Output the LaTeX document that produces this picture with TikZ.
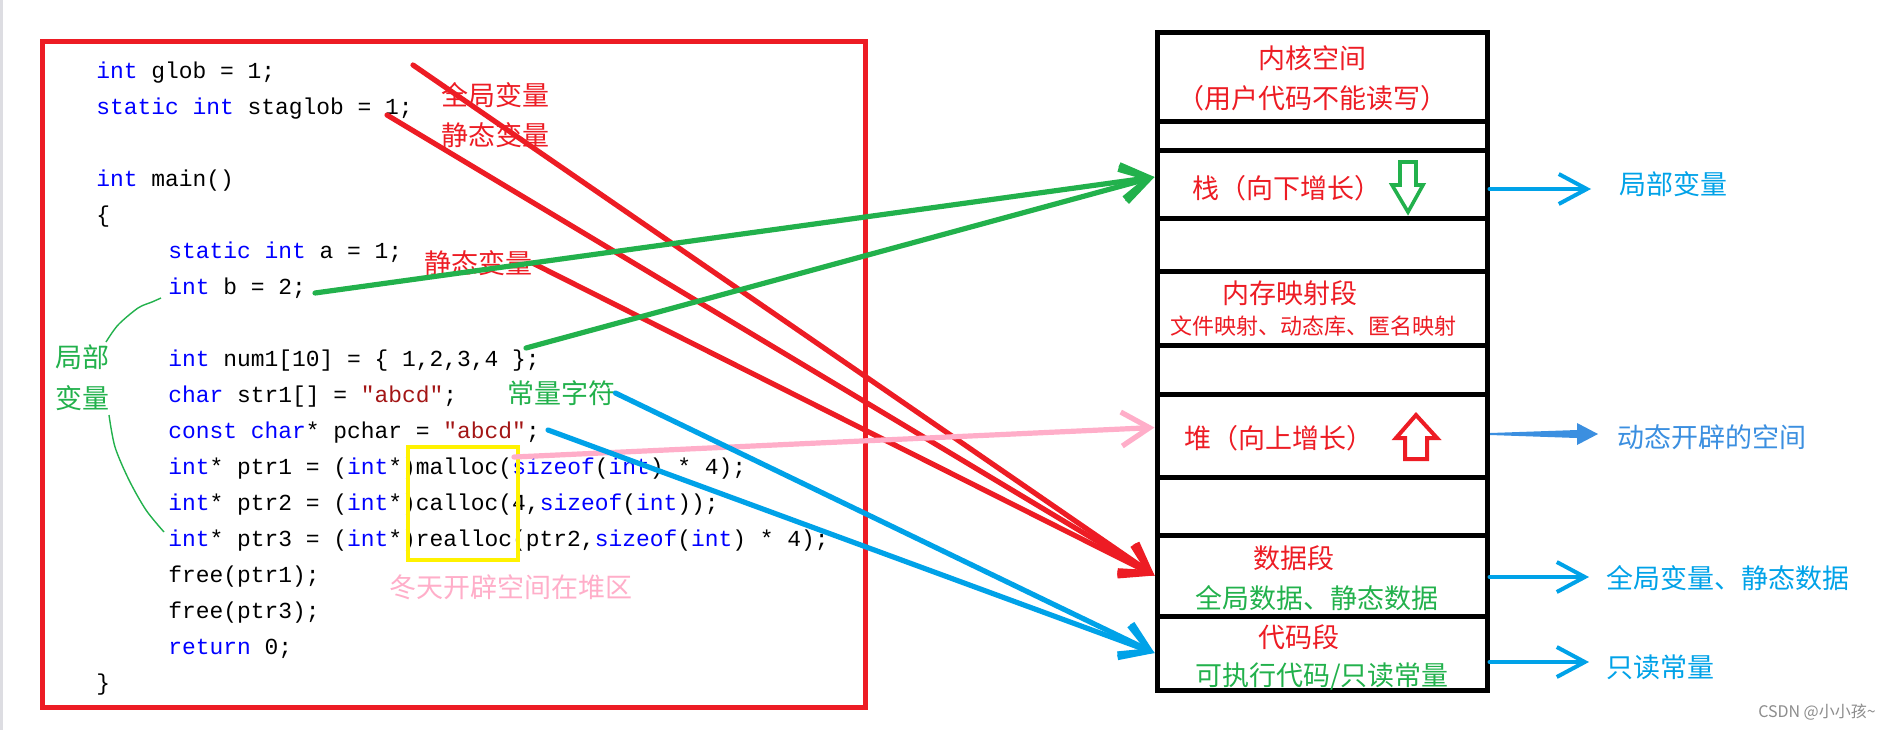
\documentclass[tikz,border=0pt]{standalone}
\usepackage{fontspec}
\usepackage{xcolor}
\usepackage{tikz}
\usetikzlibrary{arrows.meta,calc}
\newfontfamily\codefont{Liberation Mono}
\newfontfamily\cjk{Noto Sans CJK SC}
\definecolor{pred}{HTML}{ED1C24}
\definecolor{pgreen}{HTML}{22B14C}
\definecolor{pblue}{HTML}{00A2E8}
\definecolor{ppink}{HTML}{FFAEC9}
\definecolor{pyellow}{HTML}{FFF200}
\definecolor{kwc}{HTML}{0000FF}
\definecolor{strc}{HTML}{A31515}
\definecolor{dynblue}{HTML}{3B8FE0}
\newcommand\ckw[1]{\textcolor{kwc}{#1}}
\newcommand\cstr[1]{\textcolor{strc}{#1}}
\frenchspacing

\tikzset{
  src/.style={anchor=base west, inner sep=0pt, font=\codefont\fontsize{11.46pt}{13pt}\selectfont},
  zh/.style={inner sep=0pt, font=\cjk\fontsize{13.5pt}{15pt}\selectfont},
  zhs/.style={inner sep=0pt, font=\cjk\fontsize{11pt}{13pt}\selectfont},
  seg/.style={draw, line width=2.5pt, minimum width=165pt, inner sep=0pt},
  barb/.style={line width=2.6pt, line cap=round, -{Straight Barb[length=14pt,width=17pt]}},
  thinbarb/.style={line width=2pt, line cap=round, -{Straight Barb[length=14pt,width=15pt]}}
}

\begin{document}
\begin{tikzpicture}[x=0.5pt,y=-0.5pt]
\path[fill=white, use as bounding box] (0,0) rectangle (1890,730);
\fill[blue!8!gray!25] (0,0) rectangle (3,730);
%
% source listing
\draw[pred, line width=2.5pt] (42,41) rectangle (865,707);
\node[src] (glob) at (96,78) {\ckw{int} glob = 1;};
\node[src] (staglob) at (96,114) {\ckw{static} \ckw{int} staglob = 1;};
\node[src] (mainfn) at (96,186) {\ckw{int} main()};
\node[src] (lbrace) at (96,222) {\{};
\node[src] (sa) at (168,258) {\ckw{static} \ckw{int} a = 1;};
\node[src] (ib) at (168,294) {\ckw{int} b = 2;};
\node[src] (num) at (168,366) {\ckw{int} num1[10] = \{ 1,2,3,4 \};};
\node[src] (str) at (168,402) {\ckw{char} str1[] = \cstr{"abcd"};};
\node[src] (pchar) at (168,438) {\ckw{const} \ckw{char}* pchar = \cstr{"abcd"};};
\node[src] (ptra) at (168,474) {\ckw{int}* ptr1 = (\ckw{int}*)malloc(\ckw{sizeof}(\ckw{int}) * 4);};
\node[src] (ptrb) at (168,510) {\ckw{int}* ptr2 = (\ckw{int}*)calloc(4,\ckw{sizeof}(\ckw{int}));};
\node[src] (ptrc) at (168,546) {\ckw{int}* ptr3 = (\ckw{int}*)realloc(ptr2,\ckw{sizeof}(\ckw{int}) * 4);};
\node[src] (freea) at (168,582) {free(ptr1);};
\node[src] (freec) at (168,618) {free(ptr3);};
\node[src] (ret) at (168,654) {\ckw{return} 0;};
\node[src] (rbrace) at (96,690) {\}};
\draw[pyellow, line width=2pt] (408,447) rectangle (518,560);
%
% notes on the listing
\node[zh, text=pred] (gv) at (495,95) {全局变量};
\node[zh, text=pred] (sv) at (495,135) {静态变量};
\node[zh, text=pred] (sva) at (478,263) {静态变量};
\node[zh, text=pgreen] (jb) at (82,357) {局部};
\node[zh, text=pgreen] (bl) at (82,398) {变量};
\node[zh, text=pgreen] (cl) at (561,393) {常量字符};
\node[zh, text=ppink] (dt) at (511,587) {冬天开辟空间在堆区};
\draw[pgreen, line width=0.7pt] plot[smooth] coordinates {(161,298) (152,302) (138,308) (118,325) (106,342)};
\draw[pgreen, line width=0.7pt] plot[smooth] coordinates {(109,415) (115,447) (129,480) (146,510) (164,532)};
%
% memory layout
\node[seg, minimum height=44.5pt] (kern) at (1322,76.5) {};
\node[seg, minimum height=14.5pt] (gapa) at (1322,135.5) {};
\node[seg, minimum height=34pt] (stk) at (1322,184) {};
\node[seg, minimum height=26.5pt] (gapb) at (1322,244.5) {};
\node[seg, minimum height=37pt] (mmap) at (1322,308) {};
\node[seg, minimum height=24.5pt] (gapc) at (1322,369.5) {};
\node[seg, minimum height=41.5pt] (hp) at (1322,435.5) {};
\node[seg, minimum height=29pt] (gapd) at (1322,506) {};
\node[seg, minimum height=40.5pt] (dseg) at (1322,575.5) {};
\node[seg, minimum height=37pt] (cseg) at (1322,653) {};
%
\node[zh, text=pred] at (1312,58) {内核空间};
\node[zh, text=pred] at (1312,98) {（用户代码不能读写）};
\node[zh, text=pred] at (1287,188) {栈（向下增长）};
\node[zh, text=pred] at (1290,293) {内存映射段};
\node[zhs, text=pred] at (1313,326) {文件映射、动态库、匿名映射};
\node[zh, text=pred] at (1279,438) {堆（向上增长）};
\node[zh, text=pred] at (1294,558) {数据段};
\node[zh, text=pgreen] at (1317,598) {全局数据、静态数据};
\node[zh, text=pred] at (1299,637) {代码段};
\node[zh, text=pgreen] at (1322,677) {可执行代码/只读常量};
%
\draw[pgreen, line width=1.8pt] (1400,162) -- (1416,162) -- (1416,185) -- (1423,185)
  -- (1408,212) -- (1392,185) -- (1400,185) -- cycle;
\draw[pred, line width=2pt] (1405,459) -- (1427,459) -- (1427,438) -- (1437,438)
  -- (1416,415) -- (1396,438) -- (1405,438) -- cycle;
%
% right hand labels
\node[zh, text=pblue, anchor=west] (lv) at (1619,184) {局部变量};
\node[zh, text=dynblue, anchor=west] (dyn) at (1617,437) {动态开辟的空间};
\node[zh, text=pblue, anchor=west] (gd) at (1606,578) {全局变量、静态数据};
\node[zh, text=pblue, anchor=west] (ro) at (1606,667) {只读常量};
\node[inner sep=0pt, text=black!45, font=\cjk\fontsize{8pt}{9pt}\selectfont] at (1817,712) {CSDN @小小孩\textasciitilde};
%
\coordinate (lva) at ($(stk.east)+(0,5)$);
\coordinate (gda) at ($(dseg.east)+(0,1.5)$);
\coordinate (roa) at ($(cseg.east)+(0,9)$);
\draw[thinbarb, pblue, shorten >=14pt] (lva) -- (lva -| lv.west);
\draw[thinbarb, pblue, shorten >=8.5pt] (gda) -- (gda -| gd.west);
\draw[thinbarb, pblue, shorten >=8.5pt] (roa) -- (roa -| ro.west);
\fill[dynblue] (1490,433) -- (1577,430) -- (1577,423) -- (1598,434)
  -- (1577,445) -- (1577,438) -- (1490,435) -- cycle;
%
% arrows from the listing
\coordinate (ra) at (413,65);
\coordinate (rb) at (387,115);
\coordinate (ga) at (315,293);
\coordinate (gb) at (526,348);
\coordinate (pa) at (514,457);
\coordinate (bb) at (548,430);
\coordinate (stkin) at ($(stk.west)+(0,-7)$);
\coordinate (hpin) at ($(hp.west)+(0,-8)$);
\draw[barb, pred] (ra) -- (dseg.west);
\draw[barb, pred] (rb) -- (dseg.west);
\draw[barb, pred] (sva.east) -- (dseg.west);
\draw[barb, pgreen] (ga) -- (stkin);
\draw[barb, pgreen] (gb) -- (stkin);
\draw[barb, ppink] (pa) -- (hpin);
\draw[barb, pblue] (cl.east) -- (cseg.west);
\draw[barb, pblue] (bb) -- (cseg.west);
\end{tikzpicture}
\end{document}
